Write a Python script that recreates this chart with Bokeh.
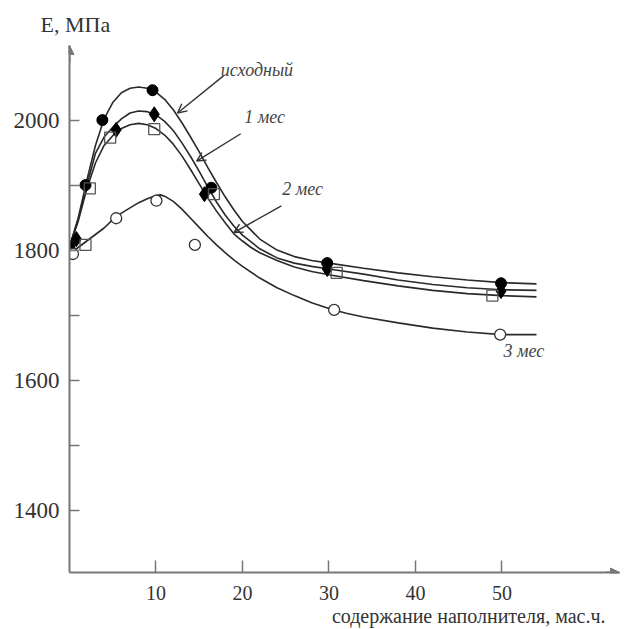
from bokeh.plotting import figure
from bokeh.models import Arrow, NormalHead, OpenHead, Label, FixedTicker, Title
from bokeh.embed import file_html
from bokeh.resources import INLINE

# ---- data ----
# fitted curves
c0_x = [0, 1, 2, 3, 4, 5, 6, 7, 8, 9, 10, 11, 12, 13, 14, 15, 16, 17, 18, 19, 20, 22, 24, 26, 28, 30, 34, 38, 42, 46, 50, 54]
c0_y = [1806, 1850, 1908, 1962, 2003, 2028, 2043, 2050, 2052, 2050, 2044, 2033, 2017, 1997, 1975, 1952, 1928, 1905, 1883, 1863, 1845, 1818, 1801, 1791, 1785, 1781, 1773, 1766, 1760, 1755, 1751, 1749]
c1_x = [0, 1, 2, 3, 4, 5, 6, 7, 8, 9, 10, 11, 12, 13, 14, 15, 16, 17, 18, 19, 20, 22, 24, 26, 28, 30, 34, 38, 42, 46, 50, 54]
c1_y = [1806, 1848, 1900, 1950, 1975, 1990, 2003, 2012, 2015, 2014, 2009, 1999, 1985, 1966, 1945, 1922, 1898, 1875, 1855, 1838, 1824, 1803, 1789, 1781, 1776, 1772, 1764, 1755, 1748, 1743, 1740, 1739]
c2_x = [0, 1, 2, 3, 4, 5, 6, 7, 8, 9, 10, 11, 12, 13, 14, 15, 16, 17, 18, 19, 20, 21, 22, 24, 26, 28, 30, 34, 38, 42, 46, 50, 54]
c2_y = [1806, 1845, 1895, 1935, 1962, 1977, 1988, 1994, 1996, 1994, 1988, 1978, 1964, 1946, 1925, 1903, 1881, 1861, 1843, 1826, 1815, 1805, 1797, 1785, 1775, 1768, 1763, 1754, 1746, 1739, 1734, 1731, 1729]
c3_x = [0, 2, 4, 5, 6, 7, 8, 9, 10, 10.5, 11, 12, 13, 14, 15, 16, 17, 18, 19, 20, 22, 24, 26, 28, 30, 32, 34, 38, 42, 46, 50, 54]
c3_y = [1795, 1815, 1835, 1848, 1858, 1866, 1874, 1880, 1885, 1886, 1884, 1876, 1864, 1850, 1836, 1822, 1809, 1797, 1786, 1776, 1758, 1743, 1731, 1720, 1711, 1704, 1698, 1689, 1681, 1675, 1671, 1671]

# measured points
p0_x = [0, 1.85, 3.8, 9.6, 16.4, 29.8, 49.9]
p0_y = [1807, 1901, 2001, 2047, 1897, 1781, 1750]
p1_x = [0.8, 5.4, 9.8, 15.6, 29.8, 49.9]
p1_y = [1818, 1986, 2010, 1887, 1772, 1738]
p2_x = [1.85, 2.35, 4.7, 9.8, 16.7, 30.9, 48.9]
p2_y = [1809, 1896, 1974, 1987, 1887, 1766, 1731]
p3_x = [0.4, 5.4, 10.05, 14.5, 30.6, 49.8]
p3_y = [1795, 1850, 1877, 1809, 1709, 1671]

y_ticks = [1400, 1500, 1600, 1700, 1800, 1900, 2000]
y_labels = {1400: "1400", 1500: "", 1600: "1600", 1700: "", 1800: "1800", 1900: "", 2000: "2000"}
x_ticks = [10, 20, 30, 40, 50]

series_names = ["исходный", "1 мес", "2 мес", "3 мес"]
y_title = "E, МПа"
x_title = "содержание наполнителя, мас.ч."

SERIF = "Liberation Serif"
AX = "#777777"
LINE = "#2a2a2a"

Y_TOP = 2115.8
p = figure(width=625, height=629, x_range=(0, 63.6), y_range=(1305, Y_TOP),
           output_backend="svg", toolbar_location=None,
           min_border_left=69, min_border_right=6, min_border_top=45, min_border_bottom=57)
p.outline_line_color = None
p.grid.visible = False

for ax in (p.xaxis, p.yaxis):
    ax.axis_line_color = AX
    ax.axis_line_width = 2
    ax.major_tick_line_color = AX
    ax.major_tick_line_width = 1.5
    ax.minor_tick_line_color = None
    ax.major_tick_out = 0
    ax.major_label_text_font = SERIF
    ax.major_label_text_color = "#333333"

p.yaxis.major_label_text_font_size = "23px"
p.xaxis.major_label_text_font_size = "20px"
p.yaxis.ticker = FixedTicker(ticks=y_ticks)
p.yaxis.major_label_overrides = y_labels
p.yaxis.major_tick_in = 10
p.yaxis.major_label_standoff = 10
p.xaxis.ticker = FixedTicker(ticks=x_ticks)
p.xaxis.major_tick_in = 12
p.xaxis.major_label_standoff = 13

# curves
for cx, cy in ((c0_x, c0_y), (c1_x, c1_y), (c2_x, c2_y), (c3_x, c3_y)):
    p.line(cx, cy, line_color=LINE, line_width=1.6)

# markers
p.scatter(p0_x, p0_y, marker="circle", size=11, fill_color="black", line_color="black")
p.scatter(p1_x, p1_y, marker="diamond", size=15, fill_color="black", line_color="black")
p.scatter(p2_x, p2_y, marker="square", size=11, fill_color="white", fill_alpha=0.0, line_color="#555555", line_width=1.3)
p.scatter(p3_x, p3_y, marker="circle", size=11, fill_color="white", line_color="#333333", line_width=1.3)

# axis arrows
p.add_layout(Arrow(end=NormalHead(size=9, fill_color=AX, line_color=AX), x_start=0, y_start=2090, x_end=0, y_end=Y_TOP,
                   line_color=AX, line_width=2))
p.add_layout(Arrow(end=NormalHead(size=9, fill_color=AX, line_color=AX), x_start=62, y_start=1305, x_end=63.6, y_end=1305,
                   line_color=AX, line_width=2))

# annotation arrows
arrows = [((17.8, 2069), (12.5, 2012)), ((19.8, 1980), (14.7, 1938)), ((24.5, 1869), (19.0, 1828))]
for (xs, ys), (xe, ye) in arrows:
    p.add_layout(Arrow(end=OpenHead(size=9, line_color="#333333", line_width=1.4),
                       x_start=xs, y_start=ys, x_end=xe, y_end=ye, line_color="#333333", line_width=1.4))

lab_pos = [(17.5, 2078), (20.2, 2006), (24.6, 1895), (50.2, 1646)]
for name, (lx, ly) in zip(series_names, lab_pos):
    p.add_layout(Label(x=lx, y=ly, text=name, text_font=SERIF, text_font_style="italic",
                       text_font_size="18px", text_color="#444444", text_baseline="middle"))

t_top = Title(text=y_title, align="left", offset=-29, vertical_align="top", text_font=SERIF,
              text_font_size="22px", text_font_style="normal", text_color="#333333", standoff=14)
p.add_layout(t_top, "above")
t_bot = Title(text=x_title, align="right", offset=14, text_font=SERIF, text_font_size="20px",
              text_font_style="normal", text_color="#333333", standoff=0)
p.add_layout(t_bot, "below")

open("out.html", "w").write(file_html(p, INLINE))
